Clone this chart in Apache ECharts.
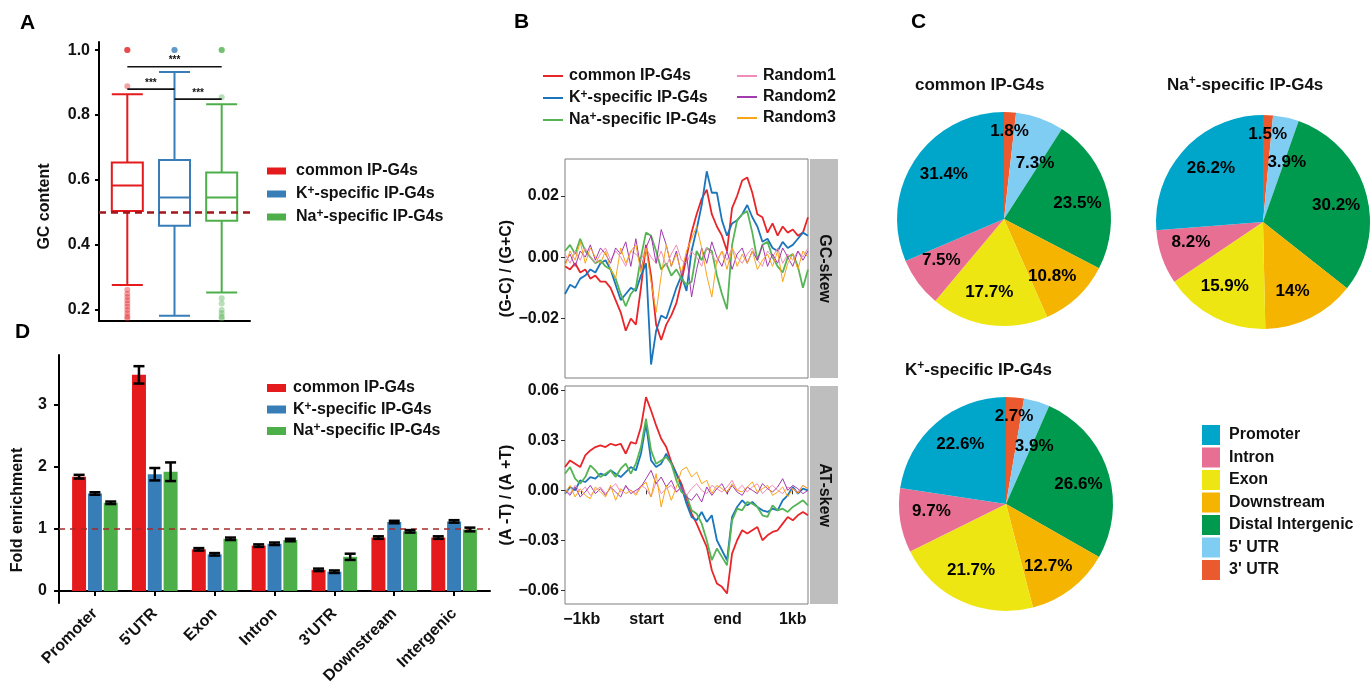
<!DOCTYPE html>
<html><head><meta charset="utf-8">
<script src="https://cdn.jsdelivr.net/npm/echarts@6/dist/echarts.min.js"></script>
<style>html,body{margin:0;padding:0;background:#fff}#c{width:1370px;height:688px}</style>
</head><body><div id="c"></div>
<script>
// ---------- shared ----------
const groups = ['common IP-G4s', 'K+-specific IP-G4s', 'Na+-specific IP-G4s'];
const groupColors = ['#E41A1C', '#377EB8', '#4DAF4A'];

// ---------- Panel A : GC content boxplots ----------
const gcBox = [            // [lower whisker, Q1, median, Q3, upper whisker]
  [0.277, 0.505, 0.583, 0.654, 0.864],
  [0.182, 0.459, 0.546, 0.662, 0.933],
  [0.254, 0.475, 0.546, 0.623, 0.833]
];
const gcOutCommon = [1.0, 1.0, 1.0, 0.889, 0.262, 0.25, 0.24, 0.23, 0.22, 0.21, 0.20, 0.19, 0.18, 0.174];
const gcOutK = [1.0, 1.0, 1.0];
const gcOutNa = [1.0, 1.0, 1.0, 0.855, 0.236, 0.22, 0.20, 0.19, 0.18, 0.174];
const sigBrackets = [[1, 3, 0.949], [1, 2, 0.880], [2, 3, 0.849]];
const gcTicks = [0.2, 0.4, 0.6, 0.8, 1.0];

// ---------- Panel B : skew profiles ----------
const skewNames = ['common IP-G4s', 'K+-specific IP-G4s', 'Na+-specific IP-G4s', 'Random1', 'Random2', 'Random3'];
const skewColors = ['#E8262A', '#1B75BC', '#55B454', '#F08CB8', '#A23AB0', '#F9A51A'];
const bTickPos = [3.30, 16.13, 32.13, 44.98];
const bTickLabels = ['\u22121kb', 'start', 'end', '1kb'];
const gcSkewTicks = [-0.02, 0, 0.02];
const atSkewTicks = [-0.06, -0.03, 0, 0.03, 0.06];

const gcCommon = [-0.003,-0.004,-0.002,-0.005,-0.004,-0.007,-0.006,-0.008,-0.008,-0.010,
  -0.014,-0.018,-0.024,-0.020,-0.022,-0.010,0.004,-0.006,-0.022,-0.027,
  -0.022,-0.019,-0.015,-0.008,0.000,0.008,0.014,0.019,0.022,0.014,
  0.010,0.007,0.002,0.016,0.020,0.025,0.026,0.021,0.014,0.013,
  0.008,0.011,0.007,0.010,0.008,0.009,0.007,0.008,0.013];
const gcK = [-0.012,-0.009,-0.010,-0.007,-0.006,-0.004,-0.005,-0.002,-0.001,-0.004,
  -0.009,-0.014,-0.012,-0.010,-0.011,-0.006,-0.002,-0.035,-0.024,-0.019,
  -0.020,-0.015,-0.010,-0.006,-0.011,0.002,0.009,0.017,0.028,0.021,
  0.021,0.012,0.007,0.011,0.012,0.014,0.017,0.013,0.010,0.005,
  0.006,0.003,0.002,0.005,0.003,0.004,0.006,0.008,0.007];
const gcNa = [0.002,0.004,0.001,0.006,0.002,0.000,-0.002,-0.001,-0.003,-0.004,
  -0.007,-0.012,-0.016,-0.012,-0.010,0.000,0.008,0.007,0.002,-0.004,
  -0.002,-0.006,-0.004,-0.007,-0.009,-0.008,0.002,-0.001,0.003,0.002,
  -0.006,-0.012,-0.017,0.004,0.012,0.014,0.015,0.008,-0.001,0.004,
  0.005,0.000,-0.003,-0.005,0.000,0.001,-0.003,-0.010,-0.004];
const gcR1 = [0.001,-0.002,0.002,-0.001,0.003,0.000,-0.002,0.001,0.003,-0.001,
  0.002,0.000,-0.003,0.002,0.001,-0.001,0.003,0.000,-0.002,0.002,
  -0.003,0.001,0.004,-0.001,-0.002,0.002,0.000,-0.003,0.003,0.001,
  -0.002,0.002,-0.001,0.003,0.000,-0.002,0.001,0.003,-0.001,-0.003,
  0.002,0.000,0.003,-0.002,0.001,-0.001,0.002,0.000,0.003];
const gcR2 = [-0.002,0.001,-0.003,0.002,0.000,0.004,-0.001,0.003,0.001,-0.002,
  0.003,0.001,0.005,-0.003,0.006,-0.004,0.003,0.007,-0.002,0.009,
  0.004,-0.003,0.002,-0.006,0.001,-0.013,-0.004,0.003,-0.002,0.005,
  0.000,-0.003,0.002,-0.004,0.001,0.003,-0.002,0.002,-0.001,0.004,
  -0.003,0.001,-0.002,0.003,0.000,-0.003,0.002,-0.001,0.002];
const gcR3 = [-0.003,0.002,-0.001,0.005,-0.002,0.003,0.000,-0.002,0.002,-0.004,
  -0.007,0.003,-0.002,0.002,0.004,-0.005,0.003,-0.008,-0.018,-0.006,
  0.004,-0.003,0.001,-0.005,0.002,0.006,0.010,0.003,-0.006,-0.013,
  -0.001,0.002,-0.004,0.003,-0.003,0.001,-0.002,0.002,-0.004,-0.001,
  0.001,-0.003,0.002,-0.008,-0.002,0.001,-0.004,0.002,0.000];

const atCommon = [0.014,0.018,0.016,0.014,0.021,0.024,0.026,0.027,0.026,0.028,
  0.027,0.028,0.022,0.029,0.028,0.038,0.056,0.048,0.039,0.031,
  0.026,0.017,0.010,0.004,-0.005,-0.014,-0.020,-0.027,-0.034,-0.048,
  -0.056,-0.058,-0.062,-0.038,-0.030,-0.024,-0.026,-0.024,-0.022,-0.030,
  -0.027,-0.025,-0.024,-0.020,-0.016,-0.018,-0.015,-0.013,-0.015];
const atK = [-0.002,0.002,0.000,0.006,0.005,0.008,0.007,0.010,0.009,0.012,
  0.010,0.008,0.011,0.014,0.012,0.022,0.040,0.018,0.014,0.016,
  0.022,0.016,0.010,0.002,-0.008,-0.016,-0.018,-0.013,-0.019,-0.015,
  -0.030,-0.036,-0.042,-0.016,-0.010,-0.006,-0.009,-0.007,-0.010,-0.012,
  -0.013,-0.011,-0.012,-0.006,-0.003,0.002,-0.002,0.001,0.000];
const atNa = [0.010,0.014,0.007,0.004,0.008,0.015,0.012,0.008,0.010,0.012,
  0.008,0.013,0.016,0.010,0.016,0.026,0.043,0.024,0.016,0.018,
  0.020,0.016,0.006,-0.001,-0.003,-0.012,-0.014,-0.020,-0.030,-0.042,
  -0.035,-0.040,-0.045,-0.018,-0.011,-0.012,-0.007,-0.008,-0.010,-0.015,
  -0.016,-0.009,-0.012,-0.011,-0.013,-0.010,-0.008,-0.006,-0.009];
const atR1 = [0.001,-0.002,0.003,-0.001,0.002,-0.003,0.000,0.002,-0.002,0.001,
  0.004,-0.001,0.002,0.000,-0.002,0.003,0.001,-0.004,0.005,-0.002,
  0.001,0.003,-0.001,0.002,-0.003,0.001,0.004,0.000,-0.002,0.003,
  0.001,-0.001,0.002,0.006,0.000,0.003,-0.001,0.002,0.004,-0.002,
  0.001,0.003,0.000,-0.002,0.002,0.001,-0.001,0.003,0.001];
const atR2 = [0.000,-0.003,0.002,-0.004,-0.001,0.003,-0.002,0.001,-0.003,0.002,
  -0.001,-0.004,0.003,-0.002,0.000,0.002,0.007,0.012,0.004,0.008,
  0.002,0.006,-0.001,0.002,-0.004,-0.006,-0.002,-0.007,0.002,-0.003,
  0.001,0.004,-0.002,0.003,-0.001,-0.003,0.002,0.000,-0.002,0.004,
  0.001,-0.001,0.002,0.007,0.000,0.003,0.001,-0.002,0.000];
const atR3 = [-0.002,0.003,-0.004,0.001,-0.003,-0.005,0.002,-0.001,-0.004,0.003,
  -0.006,0.001,-0.002,0.000,-0.003,0.002,0.005,-0.004,0.010,-0.010,
  0.003,-0.006,0.002,0.012,0.014,0.008,0.011,0.004,0.006,-0.002,
  0.003,0.001,-0.001,0.004,0.000,-0.001,0.002,0.005,-0.001,0.001,
  0.003,-0.003,-0.001,0.002,-0.004,0.001,-0.002,0.003,0.001];

// ---------- Panel C : pies ----------
const pieRegions = ["3' UTR", "5' UTR", 'Distal Intergenic', 'Downstream', 'Exon', 'Intron', 'Promoter']; // clockwise from 12 o'clock
const pieCommon = [1.8, 7.3, 23.5, 10.8, 17.7, 7.5, 31.4];
const pieNa = [1.5, 3.9, 30.2, 14, 15.9, 8.2, 26.2];
const pieK = [2.7, 3.9, 26.6, 12.7, 21.7, 9.7, 22.6];
const legendRegions = ['Promoter', 'Intron', 'Exon', 'Downstream', 'Distal Intergenic', "5' UTR", "3' UTR"];
const regionColors = ['#00A6C9', '#E86F94', '#EEE612', '#F5B400', '#009A4E', '#80CDF3', '#EA5A2E']; // legend order

// ---------- Panel D : fold enrichment ----------
const categoriesD = ['Promoter', "5'UTR", 'Exon', 'Intron', "3'UTR", 'Downstream', 'Intergenic'];
const foldCommon = [1.84, 3.48, 0.67, 0.73, 0.34, 0.86, 0.86];
const foldK = [1.57, 1.88, 0.59, 0.76, 0.31, 1.11, 1.12];
const foldNa = [1.42, 1.92, 0.84, 0.82, 0.55, 0.96, 0.99];
const errCommon = [0.03, 0.14, 0.02, 0.02, 0.02, 0.02, 0.02];
const errK = [0.02, 0.10, 0.02, 0.02, 0.02, 0.02, 0.02];
const errNa = [0.02, 0.15, 0.02, 0.02, 0.05, 0.02, 0.03];
const dTicks = [0, 1, 2, 3];

// ---------- styling helpers ----------
const F = '"Liberation Sans", Arial, Helvetica, sans-serif';
const TXT = '#111';
const richL = {
  n: {fontFamily: F, fontSize: 16, fontWeight: 'bold', color: TXT, lineHeight: 18},
  s: {fontFamily: F, fontSize: 12, fontWeight: 'bold', color: TXT, lineHeight: 4, verticalAlign: 'top'}
};
const richT = {
  n: {fontFamily: F, fontSize: 17, fontWeight: 'bold', color: TXT, lineHeight: 20},
  s: {fontFamily: F, fontSize: 12, fontWeight: 'bold', color: TXT, lineHeight: 5, verticalAlign: 'top'}
};
function supFmt(name) {
  const m = name.match(/^(\w+)\+(.*)$/);
  return m ? '{n|' + m[1] + '}{s|+}{n|' + m[2] + '}' : '{n|' + name + '}';
}
const signed = d => v => (v < -1e-9 ? '\u2212' : '') + Math.abs(v).toFixed(d);
const BAR_W = 14, BAR_GAP = 0.13;
const barOffsets = [-(BAR_W * (1 + BAR_GAP)), 0, BAR_W * (1 + BAR_GAP)];
const blackAxis = {show: true, lineStyle: {color: '#000', width: 2}};
// pie label placement (style): radius in px, angular nudge in % of the pie
const PIE_R = 107, LABEL_R = 75, LABEL_SHIFT = 0.9;
const labelRadiusByRegion = {"3' UTR": 88, "5' UTR": 64};
const labelShiftByRegion = {"3' UTR": 0.1, "5' UTR": 2.6};

// ---------- series ----------
const series = [];
const foldSets = [foldCommon, foldK, foldNa];
const errSets = [errCommon, errK, errNa];
groups.forEach((g, gi) => {
  series.push({
    type: 'bar', name: g, xAxisIndex: 3, yAxisIndex: 3,
    barWidth: BAR_W, barGap: (BAR_GAP * 100) + '%',
    itemStyle: {color: groupColors[gi]},
    data: foldSets[gi].map((v, i) => [i + 1, v]),
    markLine: gi === 0 ? {silent: true, symbol: 'none', label: {show: false},
      lineStyle: {type: [6, 5], color: '#A52A2A', width: 1.5}, data: [{yAxis: 1}]} : undefined
  });
});
groups.forEach((g, gi) => {
  series.push({
    type: 'custom', name: 'err' + gi, xAxisIndex: 3, yAxisIndex: 3, z: 5, silent: true,
    data: foldSets[gi].map((v, i) => [i + 1, v - errSets[gi][i], v + errSets[gi][i]]),
    renderItem(params, api) {
      const p1 = api.coord([api.value(0), api.value(1)]);
      const p2 = api.coord([api.value(0), api.value(2)]);
      const cx = p1[0] + barOffsets[gi], hw = 5.5;
      const st = {stroke: '#000', lineWidth: 2.5};
      return {type: 'group', children: [
        {type: 'line', shape: {x1: cx, y1: p1[1], x2: cx, y2: p2[1]}, style: st},
        {type: 'line', shape: {x1: cx - hw, y1: p1[1], x2: cx + hw, y2: p1[1]}, style: st},
        {type: 'line', shape: {x1: cx - hw, y1: p2[1], x2: cx + hw, y2: p2[1]}, style: st}
      ]};
    }
  });
});
// Panel A
series.push({
  type: 'boxplot', name: 'gcbox', xAxisIndex: 0, yAxisIndex: 0, silent: true, boxWidth: [31, 31],
  data: gcBox.map((b, i) => ({value: [i + 1].concat(b),
    itemStyle: {color: '#fff', borderColor: groupColors[i], borderWidth: 2}}))
});
[gcOutCommon, gcOutK, gcOutNa].forEach((arr, gi) => {
  series.push({
    type: 'scatter', name: 'out' + gi, xAxisIndex: 0, yAxisIndex: 0, silent: true, symbolSize: 6,
    itemStyle: {color: groupColors[gi], opacity: 0.4},
    data: arr.map(v => [gi + 1, v]),
    markLine: gi === 0 ? {silent: true, symbol: 'none', label: {show: false},
      lineStyle: {type: [7, 5], color: '#A3151C', width: 2.5}, data: [{yAxis: 0.5}]} : undefined
  });
});
series.push({
  type: 'custom', name: 'sig', xAxisIndex: 0, yAxisIndex: 0, silent: true, z: 6,
  data: sigBrackets,
  renderItem(params, api) {
    const a = api.coord([api.value(0), api.value(2)]);
    const b = api.coord([api.value(1), api.value(2)]);
    return {type: 'group', children: [
      {type: 'line', shape: {x1: a[0], y1: a[1], x2: b[0], y2: b[1]}, style: {stroke: '#111', lineWidth: 1.6}},
      {type: 'text', x: (a[0] + b[0]) / 2, y: a[1] - 1,
        style: {text: '***', fontSize: 10, fontWeight: 'bold', fontFamily: F, fill: '#111', align: 'center', verticalAlign: 'bottom'}}
    ]};
  }
});
// Panel B
const gcSets = [gcCommon, gcK, gcNa, gcR1, gcR2, gcR3];
const atSets = [atCommon, atK, atNa, atR1, atR2, atR3];
[gcSets, atSets].forEach((sets, pi) => {
  sets.forEach((vals, si) => {
    series.push({
      type: 'line', name: skewNames[si], xAxisIndex: 1 + pi, yAxisIndex: 1 + pi, silent: true,
      symbol: 'none', showSymbol: false,
      lineStyle: {color: skewColors[si], width: si < 3 ? 1.8 : 1},
      itemStyle: {color: skewColors[si]},
      data: vals.map((v, i) => [i, v])
    });
  });
});
// Panel C
const pieCenters = [[1004, 219], [1263, 222], [1006, 504]];
const pieSets = [pieCommon, pieNa, pieK];
const polar = [], angleAxis = [], radiusAxis = [];
pieSets.forEach((vals, k) => {
  const colorOf = n => regionColors[legendRegions.indexOf(n)];
  const total = vals.reduce((a, b) => a + b, 0);
  series.push({
    type: 'pie', name: 'pie' + k, center: pieCenters[k], radius: [0, PIE_R], startAngle: 90, clockwise: true,
    silent: true, label: {show: false}, labelLine: {show: false},
    data: pieRegions.map((n, i) => ({name: n, value: vals[i], itemStyle: {color: colorOf(n)}}))
  });
  polar.push({center: pieCenters[k], radius: PIE_R});
  angleAxis.push({polarIndex: k, type: 'value', min: 0, max: total, startAngle: 90, clockwise: true,
    axisLine: {show: false}, axisTick: {show: false}, axisLabel: {show: false}, splitLine: {show: false}});
  radiusAxis.push({polarIndex: k, type: 'value', min: 0, max: PIE_R,
    axisLine: {show: false}, axisTick: {show: false}, axisLabel: {show: false}, splitLine: {show: false}});
  let cum = 0;
  const pts = vals.map((v, i) => {
    const n = pieRegions[i];
    const r = labelRadiusByRegion[n] !== undefined ? labelRadiusByRegion[n] : LABEL_R;
    const sh = labelShiftByRegion[n] !== undefined ? labelShiftByRegion[n] : LABEL_SHIFT;
    const mid = cum + v / 2 + sh; cum += v;
    return [r, mid];
  });
  series.push({
    type: 'scatter', name: 'pielab' + k, coordinateSystem: 'polar', polarIndex: k, silent: true, z: 10,
    symbolSize: 0.1, itemStyle: {color: TXT, opacity: 1},
    label: {show: true, position: 'inside', formatter: p => vals[p.dataIndex] + '%', opacity: 1,
      textBorderWidth: 0, fontFamily: F, fontSize: 17, fontWeight: 'bold', color: '#000'},
    data: pts
  });
});

// ---------- axes ----------
const noAxis = {show: false};
const option = {
  animation: false,
  backgroundColor: '#fff',
  title: [
    {text: 'A', left: 20, top: 13, padding: 0, textStyle: {fontFamily: F, fontSize: 21, fontWeight: 'bold', color: '#000'}},
    {text: 'B', left: 514, top: 12, padding: 0, textStyle: {fontFamily: F, fontSize: 21, fontWeight: 'bold', color: '#000'}},
    {text: 'C', left: 911, top: 12, padding: 0, textStyle: {fontFamily: F, fontSize: 21, fontWeight: 'bold', color: '#000'}},
    {text: 'D', left: 15, top: 322, padding: 0, textStyle: {fontFamily: F, fontSize: 21, fontWeight: 'bold', color: '#000'}},
    {text: supFmt('common IP-G4s'), left: 915, top: 75, padding: 0, textStyle: {rich: richT}},
    {text: supFmt('Na+-specific IP-G4s'), left: 1167, top: 75, padding: 0, textStyle: {rich: richT}},
    {text: supFmt('K+-specific IP-G4s'), left: 905, top: 360, padding: 0, textStyle: {rich: richT}}
  ],
  legend: [
    {left: 267, top: 163, orient: 'vertical', padding: 0, selectedMode: false, icon: 'rect',
      itemWidth: 19, itemHeight: 7, itemGap: 6, data: groups, formatter: supFmt,
      itemStyle: {borderWidth: 0}, textStyle: {rich: richL, padding: [0, 0, 0, 5]}},
    {left: 543, top: 68, orient: 'vertical', padding: 0, selectedMode: false, icon: 'rect',
      itemWidth: 20, itemHeight: 2, itemGap: 5, formatter: supFmt,
      data: groups.map((g, i) => ({name: g, itemStyle: {color: skewColors[i]}})),
      textStyle: {rich: richL, padding: [0, 0, 0, 1]}},
    {left: 737, top: 68, orient: 'vertical', padding: 0, selectedMode: false, icon: 'rect',
      itemWidth: 20, itemHeight: 2, itemGap: 5, formatter: supFmt,
      data: skewNames.slice(3).map((g, i) => ({name: g, itemStyle: {color: skewColors[i + 3]}})),
      textStyle: {rich: richL, padding: [0, 0, 0, 1]}},
    {left: 267, top: 380, orient: 'vertical', padding: 0, selectedMode: false, icon: 'rect',
      itemWidth: 19, itemHeight: 8, itemGap: 4.5, data: groups, formatter: supFmt,
      itemStyle: {borderWidth: 0}, textStyle: {rich: richL, padding: [0, 0, 0, 2]}},
    {left: 1202, top: 425, orient: 'vertical', padding: 0, selectedMode: false, icon: 'rect',
      itemWidth: 18, itemHeight: 20, itemGap: 2.5, formatter: supFmt,
      data: legendRegions.map((n, i) => ({name: n, itemStyle: {color: regionColors[i], borderWidth: 0}})),
      textStyle: {rich: richL, padding: [0, 0, 0, 4]}}
  ],
  grid: [
    {left: 99, top: 42, width: 151, height: 279},
    {left: 565, top: 159, width: 243, height: 219, show: true, borderColor: '#7F7F7F', borderWidth: 1},
    {left: 565, top: 386, width: 243, height: 218, show: true, borderColor: '#7F7F7F', borderWidth: 1},
    {left: 59, top: 355, width: 431, height: 248}
  ],
  polar: polar,
  angleAxis: angleAxis,
  radiusAxis: radiusAxis,
  xAxis: [
    {gridIndex: 0, type: 'value', min: 0.4, max: 3.6, axisLine: blackAxis, axisTick: noAxis, axisLabel: noAxis, splitLine: noAxis},
    {gridIndex: 1, type: 'value', min: 0, max: 48, axisLine: noAxis, axisTick: noAxis, axisLabel: noAxis, splitLine: noAxis},
    {gridIndex: 2, type: 'value', min: 0, max: 48, axisLine: noAxis, splitLine: noAxis,
      axisTick: {show: true, length: 4, customValues: bTickPos, lineStyle: {color: '#333', width: 1}},
      axisLabel: {show: true, customValues: bTickPos, margin: 8, fontFamily: F, fontSize: 16, fontWeight: 'bold', color: TXT,
        formatter: v => { let k = 0; bTickPos.forEach((p, i) => { if (Math.abs(p - v) < Math.abs(bTickPos[k] - v)) k = i; }); return bTickLabels[k]; }}},
    {gridIndex: 3, type: 'value', min: 0.4, max: 7.6, axisLine: blackAxis, splitLine: noAxis,
      axisTick: {show: true, length: 5, customValues: [1, 2, 3, 4, 5, 6, 7], lineStyle: {color: '#000', width: 2}},
      axisLabel: {show: true, customValues: [1, 2, 3, 4, 5, 6, 7], rotate: 45, margin: 8,
        fontFamily: F, fontSize: 16, fontWeight: 'bold', color: TXT, formatter: v => categoriesD[Math.round(v) - 1]}}
  ],
  yAxis: [
    {gridIndex: 0, type: 'value', min: 0.166, max: 1.025, axisLine: blackAxis, splitLine: noAxis,
      axisTick: {show: true, length: 4, customValues: gcTicks, lineStyle: {color: '#000', width: 2}},
      axisLabel: {show: true, customValues: gcTicks, margin: 9, fontFamily: F, fontSize: 16, fontWeight: 'bold', color: TXT, formatter: v => v.toFixed(1)},
      name: 'GC content', nameLocation: 'middle', nameGap: 46, nameRotate: 90,
      nameTextStyle: {fontFamily: F, fontSize: 16, fontWeight: 'bold', color: TXT, padding: [0, 50, 0, 0]}},
    {gridIndex: 1, type: 'value', min: -0.0394, max: 0.032, axisLine: noAxis, splitLine: noAxis,
      axisTick: {show: true, length: 4, customValues: gcSkewTicks, lineStyle: {color: '#333', width: 1}},
      axisLabel: {show: true, customValues: gcSkewTicks, margin: 6, fontFamily: F, fontSize: 16, fontWeight: 'bold', color: TXT, formatter: signed(2)},
      name: '(G-C) / (G+C)', nameLocation: 'middle', nameGap: 48, nameRotate: 90,
      nameTextStyle: {fontFamily: F, fontSize: 16, fontWeight: 'bold', color: TXT}},
    {gridIndex: 2, type: 'value', min: -0.0683, max: 0.0627, axisLine: noAxis, splitLine: noAxis,
      axisTick: {show: true, length: 4, customValues: atSkewTicks, lineStyle: {color: '#333', width: 1}},
      axisLabel: {show: true, customValues: atSkewTicks, margin: 6, fontFamily: F, fontSize: 16, fontWeight: 'bold', color: TXT, formatter: signed(2)},
      name: '(A -T) / (A +T)', nameLocation: 'middle', nameGap: 48, nameRotate: 90,
      nameTextStyle: {fontFamily: F, fontSize: 16, fontWeight: 'bold', color: TXT}},
    {gridIndex: 3, type: 'value', min: -0.194, max: 3.8, axisLine: blackAxis, splitLine: noAxis,
      axisTick: {show: true, length: 5, customValues: dTicks, lineStyle: {color: '#000', width: 2}},
      axisLabel: {show: true, customValues: dTicks, margin: 12, fontFamily: F, fontSize: 16, fontWeight: 'bold', color: TXT},
      name: 'Fold enrichment', nameLocation: 'middle', nameGap: 33, nameRotate: 90,
      nameTextStyle: {fontFamily: F, fontSize: 16, fontWeight: 'bold', color: TXT, padding: [0, 62, 0, 0]}}
  ],
  graphic: [
    {type: 'rect', shape: {x: 810, y: 159, width: 28, height: 219}, style: {fill: '#BEBEBE'}},
    {type: 'text', x: 824, y: 268.5, rotation: -Math.PI / 2,
      style: {text: 'GC-skew', fontFamily: F, fontSize: 16, fontWeight: 'bold', fill: TXT, align: 'center', verticalAlign: 'middle'}},
    {type: 'rect', shape: {x: 810, y: 386, width: 28, height: 218}, style: {fill: '#BEBEBE'}},
    {type: 'text', x: 824, y: 495, rotation: -Math.PI / 2,
      style: {text: 'AT-skew', fontFamily: F, fontSize: 16, fontWeight: 'bold', fill: TXT, align: 'center', verticalAlign: 'middle'}}
  ],
  series: series
};
const chart = echarts.init(document.getElementById('c'), null, {renderer: 'canvas'});
chart.setOption(option);
</script>
</body></html>
